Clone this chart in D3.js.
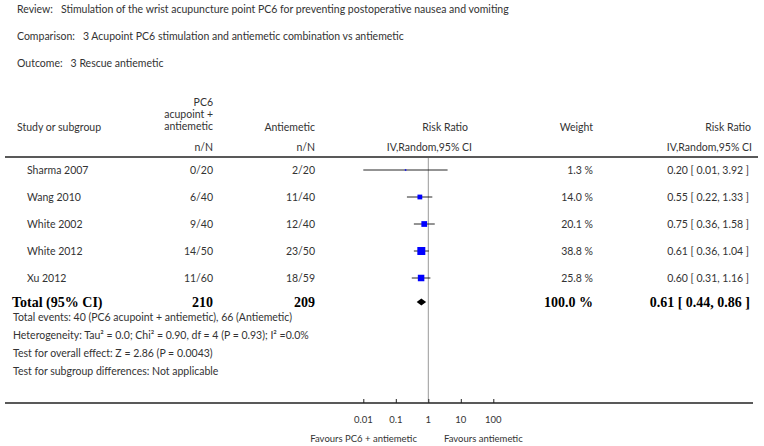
<!DOCTYPE html>
<html>
<head>
<meta charset="utf-8">
<script src="https://cdn.jsdelivr.net/npm/d3@7"></script>
<style>
  body { margin: 0; background: #fff; }
  text { font-family: Lato, "Open Sans", sans-serif; font-size: 10.5px; fill: #333; }
  .bold { font-family: "Liberation Serif", "DejaVu Serif", serif; font-weight: bold; font-size: 14px; fill: #000; }
</style>
</head>
<body>
<script>
// header info
var headerLabels = ["Review:", "Comparison:", "Outcome:"];
var headerValues = [
    "Stimulation of the wrist acupuncture point PC6 for preventing postoperative nausea and vomiting",
    "3 Acupoint PC6 stimulation and antiemetic combination vs antiemetic",
    "3 Rescue antiemetic"
];

// study rows
var studies = ["Sharma 2007", "Wang 2010", "White 2002", "White 2012", "Xu 2012"];
var treatN = ["0/20", "6/40", "9/40", "14/50", "11/60"];
var ctrlN = ["2/20", "11/40", "12/40", "23/50", "18/59"];
var rr = [0.20, 0.55, 0.75, 0.61, 0.60];
var lo = [0.01, 0.22, 0.36, 0.36, 0.31];
var hi = [3.92, 1.33, 1.58, 1.04, 1.16];
var weights = [1.3, 14.0, 20.1, 38.8, 25.8];

// total
var total = { treat: "210", ctrl: "209", weight: "100.0 %", rr: 0.61, lo: 0.44, hi: 0.86 };
var footLines = [
    "Total events: 40 (PC6 acupoint + antiemetic), 66 (Antiemetic)",
    "Heterogeneity: Tau\u00b2 = 0.0; Chi\u00b2 = 0.90, df = 4 (P = 0.93); I\u00b2 =0.0%",
    "Test for overall effect: Z = 2.86 (P = 0.0043)",
    "Test for subgroup differences: Not applicable"
];
var tickValues = [0.01, 0.1, 1, 10, 100];
var tickLabels = ["0.01", "0.1", "1", "10", "100"];

var W = 764, H = 446;
var svg = d3.select("body").append("svg")
    .attr("width", W)
    .attr("height", H);

var x = d3.scaleLog().domain([0.01, 100]).range([363.3, 493.3]);
var rowY = d3.scalePoint().domain(studies).range([170, 278]);
var totalY = 302;
var fmt = d3.format(".2f");
var fmtW = d3.format(".1f");

function ciText(a, b, c) {
    return fmt(a) + " [ " + fmt(b) + ", " + fmt(c) + " ]";
}

//Header block
headerLabels.forEach(function (lab, i) {
    var t = svg.append("text")
        .attr("x", 17)
        .attr("y", 13 + i * 27);
    t.append("tspan").text(lab);
    t.append("tspan").attr("dx", 8).text(headerValues[i]);
});

//Column headers
function colText(xp, y, s, anchor) {
    return svg.append("text")
        .attr("x", xp)
        .attr("y", y)
        .attr("text-anchor", anchor || "end")
        .text(s);
}
colText(17, 131, "Study or subgroup", "start");
colText(213, 106, "PC6");
colText(213, 118, "acupoint +");
colText(213, 130, "antiemetic");
colText(213, 151, "n/N");
colText(315, 131, "Antiemetic");
colText(315, 151, "n/N");
colText(468, 131, "Risk Ratio");
colText(472, 151, "IV,Random,95% CI");
colText(593, 131, "Weight");
colText(751, 131, "Risk Ratio");
colText(752, 151, "IV,Random,95% CI");

//Rules
svg.append("line")
    .attr("x1", 5).attr("x2", 758)
    .attr("y1", 157).attr("y2", 157)
    .attr("stroke", "#222").attr("stroke-width", 1.6);

svg.append("line")
    .attr("x1", x(1)).attr("x2", x(1))
    .attr("y1", 158).attr("y2", 402)
    .attr("stroke", "#999").attr("stroke-width", 1);

//Study rows
studies.forEach(function (s, i) {
    var y = rowY(s);
    colText(27, y + 4, s, "start");
    colText(213, y + 4, treatN[i]);
    colText(315, y + 4, ctrlN[i]);
    colText(593, y + 4, fmtW(weights[i]) + " %");
    colText(749, y + 4, ciText(rr[i], lo[i], hi[i]));

    svg.append("line")
        .attr("x1", x(lo[i])).attr("x2", x(hi[i]))
        .attr("y1", y).attr("y2", y)
        .attr("stroke", "#111").attr("stroke-width", 0.9);

    var side = 1.28 * Math.sqrt(weights[i]);
    svg.append("rect")
        .attr("x", x(rr[i]) - side / 2)
        .attr("y", y - side / 2)
        .attr("width", side)
        .attr("height", side)
        .attr("fill", "#0000ff");
});

//Total row
svg.append("text").attr("class", "bold").attr("x", 12).attr("y", totalY + 5).text("Total (95% CI)");
svg.append("text").attr("class", "bold").attr("x", 213).attr("y", totalY + 5).attr("text-anchor", "end").text(total.treat);
svg.append("text").attr("class", "bold").attr("x", 315).attr("y", totalY + 5).attr("text-anchor", "end").text(total.ctrl);
svg.append("text").attr("class", "bold").attr("x", 593).attr("y", totalY + 5).attr("text-anchor", "end").text(total.weight);
svg.append("text").attr("class", "bold").attr("x", 750).attr("y", totalY + 5).attr("text-anchor", "end")
    .text(ciText(total.rr, total.lo, total.hi));

svg.append("path")
    .attr("d", "M" + x(total.lo) + "," + totalY +
        "L" + x(total.rr) + "," + (totalY - 3.5) +
        "L" + x(total.hi) + "," + totalY +
        "L" + x(total.rr) + "," + (totalY + 3.5) + "Z")
    .attr("fill", "#000");

//Footer text
footLines.forEach(function (s, i) {
    svg.append("text")
        .attr("x", 13)
        .attr("y", 321 + i * 18)
        .text(s);
});

//Axis
svg.append("line")
    .attr("x1", 5).attr("x2", 753)
    .attr("y1", 403).attr("y2", 403)
    .attr("stroke", "#222").attr("stroke-width", 1.6);

var axis = d3.axisTop(x)
    .tickValues(tickValues)
    .tickSize(4)
    .tickFormat("");
var axG = svg.append("g")
    .attr("transform", "translate(0,403)")
    .call(axis);
axG.select(".domain").remove();
axG.selectAll(".tick line").attr("stroke", "#222");

tickValues.forEach(function (v, i) {
    svg.append("text")
        .attr("x", x(v))
        .attr("y", 423)
        .attr("text-anchor", "middle")
        .style("font-size", "9.5px")
        .text(tickLabels[i]);
});

svg.append("text").attr("x", 417).attr("y", 442).attr("text-anchor", "end")
    .style("font-size", "9.5px").text("Favours PC6 + antiemetic");
svg.append("text").attr("x", 444).attr("y", 442).attr("text-anchor", "start")
    .style("font-size", "9.5px").text("Favours antiemetic");
</script>
</body>
</html>
